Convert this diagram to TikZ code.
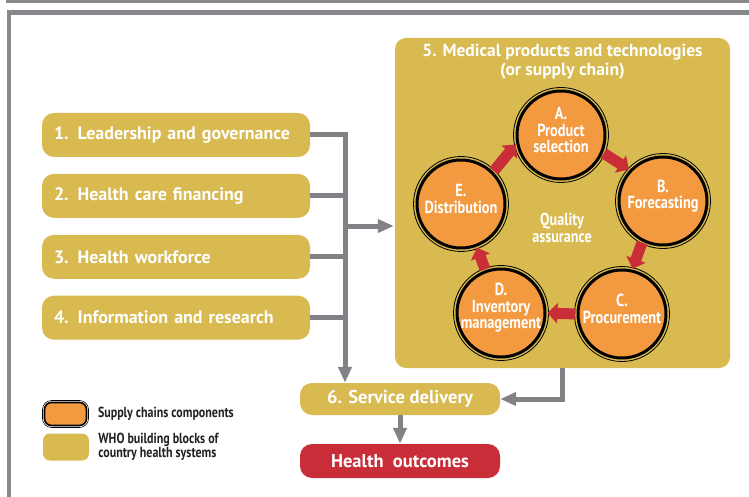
\documentclass[tikz,border=0pt]{standalone}
\usepackage{fontspec}
\setmainfont{PT Sans}
\newfontfamily\narrowfont[FakeStretch=0.82]{PT Sans}
\usetikzlibrary{arrows.meta,positioning}
\definecolor{Gold}{HTML}{D8BA50}
\definecolor{Orange}{HTML}{F39A41}
\definecolor{Crimson}{HTML}{C92E38}
\definecolor{Steel}{HTML}{818285}
\definecolor{Frame}{HTML}{88898C}
\definecolor{Ink}{HTML}{231F20}
\tikzset{
  block/.style={fill=Gold,rounded corners=12pt,minimum width=268pt,minimum height=44pt,text width=244pt,align=left,font=\fontsize{18}{20}\selectfont\bfseries,text=white,inner xsep=12pt},
  medbox/.style={fill=Gold,rounded corners=11pt,minimum width=335pt,minimum height=330pt},
  medtitle/.style={align=center,font=\fontsize{17.5}{19}\selectfont\bfseries,text=white,inner sep=0pt},
  comp/.style={circle,fill=Orange,draw=black,line width=3pt,minimum size=88pt,inner sep=0pt},
  comptext/.style={align=center,text=white,inner sep=0pt,yshift=5pt,font=\narrowfont\bfseries\fontsize{17.5}{16.5}\selectfont},
  ring/.style={draw=black,line width=0.8pt},
  qa/.style={align=center,text=white,font=\narrowfont\bfseries\fontsize{17.3}{17}\selectfont},
  outcome/.style={rounded corners=12pt,minimum width=200pt,align=center,font=\fontsize{18.5}{20}\selectfont\bfseries,text=white},
  legcomp/.style={fill=Orange,draw=black,line width=1.6pt,rounded corners=7pt,minimum width=42pt,minimum height=23pt},
  legring/.style={draw=black,line width=0.6pt,rounded corners=9pt,minimum width=46pt,minimum height=27pt},
  legblock/.style={fill=Gold,rounded corners=7pt,minimum width=46pt,minimum height=27pt},
  legtext/.style={align=left,text=Ink,inner sep=0pt,font=\narrowfont\bfseries\fontsize{14.6}{14.5}\selectfont},
  flow/.style={-{Triangle[length=10pt,width=20pt]},draw=Crimson,line width=11pt,shorten <=1pt,shorten >=1pt},
  link/.style={draw=Steel,line width=5pt},
  linkarr/.style={link,-{Triangle[length=16pt,width=13pt]}}
}
\begin{document}
\begin{tikzpicture}[x=1pt,y=-1pt]
  \useasboundingbox (0,0) rectangle (749,497);
  % page frame
  \draw[Frame,line width=3pt] (6,1.5) -- (749,1.5);
  \draw[Frame,line width=4.5pt] (9,497) -- (9,12.5) -- (749,12.5);

  % building blocks
  \node[block] (lead) at (176,135) {1. Leadership and governance};
  \node[block,below=16.5pt of lead] (fin) {2. Health care financing};
  \node[block,below=16.5pt of fin] (work) {3. Health workforce};
  \node[block,below=16.5pt of work] (info) {4. Information and research};

  % supply chain
  \node[medbox] (med) at (562.5,203) {};
  \node[medtitle,below=6pt of med.north] (medhead) {5. Medical products and technologies\\(or supply chain)};
  \node[comp,label={[comptext]center:A.\\Product\\selection}] (A) at (561,135) {};
  \node[comp,label={[comptext]center:B.\\Forecasting}] (B) at (663,201) {};
  \node[comp,label={[comptext]center:C.\\Procurement}] (C) at (622,314) {};
  \node[comp,label={[comptext]center:D.\\Inventory\\management}] (D) at (501,313) {};
  \node[comp,label={[comptext]center:E.\\Distribution}] (E) at (461,204) {};
  \foreach \n in {A,B,C,D,E}
    \draw[ring] (\n) circle (47.5pt);
  \node[qa] (qual) at (562,228) {Quality\\assurance};
  \draw[flow] (A.-23) -- (B.137);
  \draw[flow] (B.-117) -- (C.77);
  \draw[flow] (C.180) -- (D.0);
  \draw[flow] (D.110) -- (E.-70);
  \draw[flow] (E.45) -- (A.191);

  % delivery and outcomes
  \node[outcome,fill=Gold,minimum height=32pt] (serv) at (400,399) {6. Service delivery};
  \node[outcome,fill=Crimson,minimum height=34pt] (health) at (400,461) {Health\ \ outcomes};

  % connectors
  \coordinate (bus) at (345,226);
  \draw[linkarr] (lead.east) -| (bus |- serv.north);
  \draw[link] (fin.east) -- (fin.east -| bus);
  \draw[link] (work.east) -- (work.east -| bus);
  \draw[link] (info.east) -- (info.east -| bus);
  \draw[linkarr,shorten >=1pt] (bus) -- (bus -| med.west);
  \draw[linkarr] (med.south) |- (serv.east);
  \draw[linkarr] (serv) -- (health);

  % legend
  \node[legring] (legring) at (65.5,414) {};
  \node[legcomp] (legcomp) at (65.5,414) {};
  \node[legtext,right=9pt of legring] (legcomptext) {Supply chains components};
  \node[legblock] (legblock) at (66,447) {};
  \node[legtext,right=9pt of legblock] (legblocktext) {WHO building blocks of\\country health systems};
\end{tikzpicture}
\end{document}
